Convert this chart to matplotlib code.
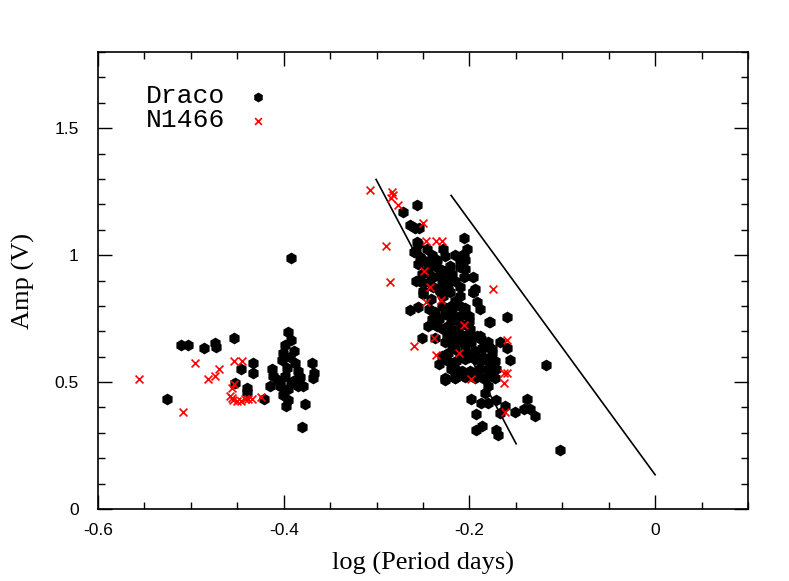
import numpy as np
import matplotlib
matplotlib.use("Agg")
import matplotlib.pyplot as plt
from matplotlib.ticker import MultipleLocator, FixedFormatter, FixedLocator

# Draco variables (black)
draco_logp = [
    -0.526, -0.511, -0.503, -0.486, -0.474, -0.473, -0.454, -0.446, -0.433, -0.433,
    -0.452, -0.440, -0.439, -0.421, -0.415, -0.413, -0.395, -0.392, -0.399, -0.389,
    -0.401, -0.402, -0.388, -0.385, -0.370, -0.367, -0.368, -0.411, -0.406, -0.399,
    -0.392, -0.385, -0.379, -0.395, -0.404, -0.401, -0.395, -0.397, -0.377, -0.380,
    -0.388, -0.392, -0.396, -0.382, -0.393, -0.404,
    -0.256, -0.271, -0.264, -0.259, -0.254, -0.256, -0.258, -0.246, -0.260, -0.253,
    -0.255, -0.250, -0.228, -0.226, -0.206, -0.203, -0.206, -0.210, -0.205, -0.206,
    -0.196, -0.237, -0.232, -0.226, -0.221, -0.233, -0.226, -0.219, -0.239, -0.244,
    -0.239, -0.230, -0.223, -0.215, -0.210, -0.223, -0.232, -0.250, -0.257, -0.194,
    -0.251, -0.264, -0.255, -0.250, -0.241, -0.228, -0.221, -0.210, -0.196, -0.192,
    -0.189, -0.237, -0.233, -0.226, -0.219, -0.215, -0.223, -0.228, -0.212, -0.201,
    -0.203, -0.215, -0.224, -0.226, -0.219, -0.208, -0.198, -0.192, -0.187, -0.180,
    -0.176, -0.185, -0.194, -0.203, -0.223, -0.230, -0.233, -0.223, -0.214, -0.205,
    -0.194, -0.187, -0.180, -0.172, -0.171, -0.180, -0.190, -0.199, -0.208, -0.226,
    -0.215, -0.194, -0.185, -0.172, -0.178, -0.251, -0.237, -0.237, -0.244,
    -0.117, -0.102, -0.129, -0.138, -0.135, -0.141, -0.151, -0.159, -0.156, -0.160,
    -0.167, -0.179, -0.196, -0.226, -0.216, -0.205, -0.198, -0.193, -0.193, -0.186,
    -0.171, -0.169, -0.188, -0.180, -0.171, -0.167, -0.162, -0.179, -0.180, -0.183,
    -0.176, -0.186, -0.176, -0.189, -0.199, -0.255,
    -0.220, -0.210, -0.230, -0.215, -0.205, -0.200, -0.210, -0.240, -0.245, -0.235,
    -0.220, -0.200, -0.210, -0.220, -0.210, -0.200, -0.215, -0.205, -0.215, -0.185,
    -0.200, -0.210, -0.215, -0.220, -0.250, -0.245, -0.245, -0.240, -0.235, -0.210,
    -0.215, -0.205,
]
draco_amp = [
    0.435, 0.645, 0.645, 0.634, 0.655, 0.640, 0.675, 0.553, 0.575, 0.537,
    0.497, 0.475, 0.460, 0.434, 0.484, 0.553, 0.698, 0.666, 0.645, 0.622,
    0.616, 0.587, 0.577, 0.543, 0.575, 0.537, 0.517, 0.524, 0.510, 0.524,
    0.497, 0.484, 0.484, 0.471, 0.484, 0.451, 0.431, 0.405, 0.414, 0.324,
    0.510, 0.990, 0.555, 0.520, 0.600, 0.500,
    1.199, 1.170, 1.120, 1.107, 1.107, 1.051, 1.022, 1.025, 1.012, 0.992,
    0.966, 0.979, 1.025, 0.998, 1.067, 1.025, 1.005, 0.952, 0.946, 0.913,
    0.913, 0.959, 0.946, 0.939, 0.959, 0.919, 0.913, 0.926, 0.913, 0.893,
    0.873, 0.886, 0.893, 0.899, 0.873, 0.867, 0.860, 0.860, 0.899, 0.867,
    0.926, 0.785, 0.794, 0.847, 0.827, 0.840, 0.854, 0.840, 0.854, 0.814,
    0.787, 0.774, 0.748, 0.768, 0.774, 0.748, 0.721, 0.708, 0.708, 0.721,
    0.682, 0.682, 0.682, 0.656, 0.649, 0.656, 0.656, 0.682, 0.669, 0.656,
    0.616, 0.636, 0.622, 0.616, 0.616, 0.603, 0.570, 0.583, 0.583, 0.590,
    0.590, 0.583, 0.583, 0.583, 0.550, 0.550, 0.550, 0.543, 0.543, 0.517,
    0.517, 0.517, 0.517, 0.517, 0.735, 0.675, 0.675, 0.735, 0.787,
    0.566, 0.233, 0.365, 0.435, 0.395, 0.395, 0.383, 0.755, 0.586, 0.633,
    0.658, 0.737, 0.856, 0.507, 0.516, 0.518, 0.435, 0.375, 0.313, 0.326,
    0.313, 0.293, 0.418, 0.418, 0.431, 0.379, 0.405, 0.524, 0.484, 0.458,
    0.577, 0.636, 0.629, 0.682, 0.708, 1.045,
    0.800, 0.800, 0.800, 0.820, 0.790, 0.760, 0.760, 0.750, 0.720, 0.720,
    0.740, 0.740, 0.730, 0.700, 0.690, 0.690, 0.660, 0.630, 0.630, 0.600,
    0.600, 0.600, 0.550, 0.550, 0.890, 0.940, 0.970, 1.000, 0.980, 0.980,
    1.000, 0.980,
]

# NGC 1466 variables (red crosses)
n1466_logp = [
    -0.556, -0.508, -0.495, -0.482, -0.474, -0.470, -0.454, -0.445, -0.453, -0.456,
    -0.458, -0.456, -0.455, -0.450, -0.446, -0.442, -0.438, -0.434, -0.424,
    -0.307, -0.283, -0.282, -0.284, -0.277, -0.250, -0.290, -0.247, -0.236, -0.229,
    -0.285, -0.249, -0.242, -0.247, -0.231, -0.175, -0.206, -0.238, -0.260, -0.236,
    -0.211, -0.159, -0.198, -0.163, -0.159, -0.163, -0.162,
]
n1466_amp = [
    0.514, 0.384, 0.575, 0.513, 0.524, 0.553, 0.584, 0.584, 0.491, 0.478,
    0.447, 0.437, 0.431, 0.425, 0.425, 0.434, 0.434, 0.434, 0.442,
    1.257, 1.249, 1.236, 1.226, 1.199, 1.128, 1.036, 1.057, 1.057, 1.057,
    0.896, 0.937, 0.876, 0.816, 0.824, 0.865, 0.724, 0.675, 0.644, 0.605,
    0.613, 0.666, 0.514, 0.534, 0.534, 0.495, 0.383,
]

# reference lines (end points)
line1_x = [-0.3005, -0.1497]
line1_y = [1.298, 0.257]
line2_x = [-0.2197, 0.0]
line2_y = [1.235, 0.135]

fig = plt.figure(figsize=(7.89, 5.81), dpi=100)
ax = fig.add_axes([0.1242, 0.1239, 0.8238, 0.7866])

ax.scatter(draco_logp, draco_amp, marker='h', s=72, c='black', linewidths=0,
           label='Draco', zorder=2)
ax.scatter(n1466_logp, n1466_amp, marker='x', s=32, c='red', linewidths=1.2,
           label='N1466', zorder=3)
ax.plot(line1_x, line1_y, color='black', lw=1.2)
ax.plot(line2_x, line2_y, color='black', lw=1.2)

ax.set_xlim(-0.6, 0.1)
ax.set_ylim(0, 1.8)

ax.xaxis.set_major_locator(FixedLocator([-0.6, -0.4, -0.2, 0.0]))
ax.xaxis.set_major_formatter(FixedFormatter(['-0.6', '-0.4', '-0.2', '0']))
ax.xaxis.set_minor_locator(MultipleLocator(0.05))
ax.yaxis.set_major_locator(FixedLocator([0, 0.5, 1.0, 1.5]))
ax.yaxis.set_major_formatter(FixedFormatter(['0', '0.5', '1', '1.5']))
ax.yaxis.set_minor_locator(MultipleLocator(0.1))

ax.tick_params(which='both', direction='in', top=True, right=True, width=1)
ax.tick_params(which='major', length=10)
ax.tick_params(which='minor', length=5)
ax.tick_params(axis='x', pad=10)
ax.tick_params(axis='y', pad=14)
for lab in ax.get_xticklabels() + ax.get_yticklabels():
    lab.set_fontfamily('Liberation Sans')
    lab.set_fontsize(12.5)
for sp in ax.spines.values():
    sp.set_linewidth(1.2)

ax.set_xlabel('log (Period days)', family='Liberation Serif', fontsize=19, labelpad=10)
ax.set_ylabel('Amp (V)', family='Liberation Serif', fontsize=19, labelpad=14)

leg = ax.legend(loc='upper left', bbox_to_anchor=(0.057, 0.952), frameon=False,
                markerfirst=False, prop={'family': 'Liberation Mono', 'size': 19},
                handlelength=1.0, handletextpad=0.75, labelspacing=0.0,
                borderaxespad=0)
leg.legend_handles[0].set_sizes([50])
leg.legend_handles[1].set_sizes([24])

fig.savefig('out.png', dpi=100)
